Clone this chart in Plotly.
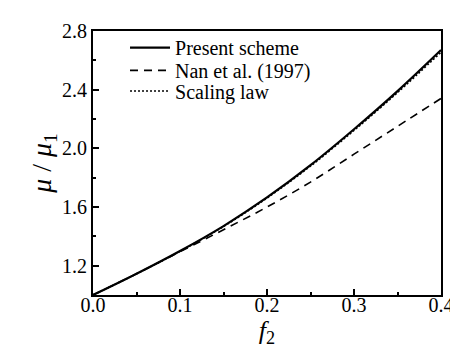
import plotly.graph_objects as go

f2 = [0.0, 0.05, 0.10, 0.15, 0.20, 0.25, 0.30, 0.35, 0.40]
present = [1.0, 1.145, 1.300, 1.470, 1.665, 1.885, 2.130, 2.390, 2.670]
nan1997 = [1.0, 1.145, 1.295, 1.445, 1.600, 1.770, 1.960, 2.150, 2.340]
scaling = [1.0, 1.144, 1.298, 1.467, 1.661, 1.879, 2.122, 2.380, 2.655]

font_family = "Liberation Serif"

fig = go.Figure()
fig.add_trace(go.Scatter(x=f2, y=present, mode="lines", name="Present scheme", legend="legend",
                         line=dict(color="black", width=2.2, shape="spline")))
fig.add_trace(go.Scatter(x=f2, y=nan1997, mode="lines", name="Nan et al. (1997)", legend="legend2",
                         line=dict(color="black", width=1.6, dash="8px,6px", shape="spline")))
fig.add_trace(go.Scatter(x=f2, y=scaling, mode="lines", name="Scaling law", legend="legend3",
                         line=dict(color="black", width=1.6, dash="2px,2px", shape="spline")))

leg_common = dict(xanchor="left", yanchor="middle", bgcolor="rgba(0,0,0,0)",
                  font=dict(size=20, family=font_family), itemwidth=40)

fig.update_layout(
    width=458, height=350,
    margin=dict(l=85, r=14, t=19, b=63),
    plot_bgcolor="white", paper_bgcolor="white",
    font=dict(family=font_family, size=20, color="black"),
    showlegend=True,
    legend=dict(x=0.092, y=0.937, **leg_common),
    legend2=dict(x=0.092, y=0.851, **leg_common),
    legend3=dict(x=0.092, y=0.773, **leg_common),
)
fig.update_xaxes(
    range=[0, 0.4], tick0=0, dtick=0.1, tickformat=".1f",
    ticks="inside", ticklen=6, tickwidth=1.5, tickcolor="black",
    minor=dict(ticks="inside", dtick=0.05, ticklen=3, tickwidth=1.5, tickcolor="black"),
    showline=True, linewidth=2, linecolor="black", mirror=True,
    showgrid=False, zeroline=False, ticklabelstandoff=-9,
    title=dict(text="<i>f</i><sub>2</sub>", font=dict(size=26, family=font_family), standoff=0),
    tickfont=dict(size=20, family=font_family),
)
fig.update_yaxes(
    range=[1.0, 2.8], tick0=1.2, dtick=0.4, tickformat=".1f",
    ticks="inside", ticklen=6, tickwidth=1.5, tickcolor="black",
    minor=dict(ticks="inside", dtick=0.2, ticklen=3, tickwidth=1.5, tickcolor="black"),
    showline=True, linewidth=2, linecolor="black", mirror=True,
    showgrid=False, zeroline=False,
    title=dict(text="<i>μ</i> / <i>μ</i><sub>1</sub>", font=dict(size=28, family=font_family), standoff=2),
    tickfont=dict(size=20, family=font_family),
)

fig.write_html("out.html")
